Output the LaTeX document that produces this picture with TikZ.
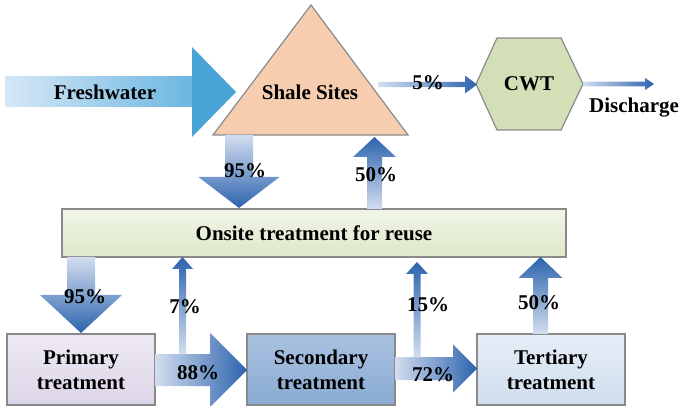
\documentclass[tikz,border=0pt]{standalone}
\usepackage{fontspec}
\setmainfont{Liberation Serif}
\usetikzlibrary{calc}
\definecolor{pale}{HTML}{D3DEF0}
\definecolor{deep}{HTML}{2C63AE}
\definecolor{boxgray}{HTML}{8A8A8A}
\definecolor{peach}{HTML}{F7CDAF}
\definecolor{cwtgreen}{HTML}{D3DFB6}
\definecolor{onsitetop}{HTML}{F1F5E8}
\definecolor{onsitebot}{HTML}{DDE7C8}
\definecolor{primtop}{HTML}{EDE9F3}
\definecolor{primbot}{HTML}{DCD5E7}
\definecolor{sectop}{HTML}{A9C1DF}
\definecolor{secbot}{HTML}{8AABD4}
\definecolor{tertop}{HTML}{E6EEF7}
\definecolor{terbot}{HTML}{CFDDEE}
\definecolor{freshL}{HTML}{D6E8F6}
\definecolor{freshR}{HTML}{6BB6E1}
\definecolor{freshH}{HTML}{4AA4D7}
% vertical block arrow: xc, ytail, yhead, ytip, shaft half, head half, shading
\newcommand{\blkV}[7]{%
  \shade[#7] (#1-#5,#2) -- (#1+#5,#2) -- (#1+#5,#3) -- (#1+#6,#3) -- (#1,#4)
    -- (#1-#6,#3) -- (#1-#5,#3) -- cycle;}
% horizontal block arrow: yc, xtail, xhead, xtip, shaft half, head half, shading
\newcommand{\blkH}[7]{%
  \shade[#7] (#2,#1-#5) -- (#2,#1+#5) -- (#3,#1+#5) -- (#3,#1+#6) -- (#4,#1)
    -- (#3,#1-#6) -- (#3,#1-#5) -- cycle;}
\tikzset{
  txt/.style={font=\fontsize{21}{25}\selectfont\bfseries, inner sep=0pt, align=center},
  pct/.style={font=\fontsize{21}{22}\selectfont\bfseries, inner sep=0pt},
  box/.style={draw=boxgray, line width=1.2pt, rectangle, inner sep=0pt,
    minimum width=148pt, minimum height=71pt, align=center,
    font=\fontsize{21}{25}\selectfont\bfseries},
  downsh/.style={top color=pale, bottom color=deep},
  upsh/.style={bottom color=pale, top color=deep},
  rightsh/.style={left color=pale, right color=deep},
}
\begin{document}
\begin{tikzpicture}[x=1pt,y=-1pt]
\useasboundingbox (0,0) rectangle (686,406);
% Freshwater arrow
\shade[left color=freshL, right color=freshR] (5,77) rectangle (193,107);
\fill[freshH] (192,77) -- (192,47) -- (236,92) -- (192,137) -- (192,107) -- cycle;
\node[txt] (fresh) at (105,92) {Freshwater};
% Shale sites triangle
\draw[boxgray, line width=1.2pt, fill=peach] (311,5) -- (408,135) -- (213,135) -- cycle;
\node[txt] (shale) at (310,92) {Shale Sites};
% CWT hexagon
\draw[boxgray, line width=1.2pt, fill=cwtgreen] (476,84) -- (497,38) -- (561,38) -- (583,84) -- (561,130) -- (497,130) -- cycle;
\node[txt] (cwt) at (529,84) {CWT};
% 5% arrow
\blkH{84.5}{378}{465}{477}{2.7}{9}{rightsh}
\node[pct] (p5) at (428,83) {5\%};
% Discharge arrow
\blkH{84}{583}{645}{654}{2.4}{6}{rightsh}
\node[txt] (dis) at (634,108) {Discharge};
% Onsite box
\node[box, minimum width=504pt, minimum height=48pt, top color=onsitetop, bottom color=onsitebot] (onsite) at (314,233) {Onsite treatment for reuse};
% 95% top arrow
\blkV{239}{135}{177}{208}{14}{40.5}{downsh}
\node[pct] (p95a) at (245,171) {95\%};
% 50% top arrow
\blkV{374.5}{209}{157}{137}{7.5}{21.5}{upsh}
\node[pct] (p50a) at (376,175) {50\%};
% bottom boxes
\node[box, top color=primtop, bottom color=primbot] (prim) at (81,369.5) {Primary\\treatment};
\node[box, top color=sectop, bottom color=secbot] (sec) at (321,369.5) {Secondary\\treatment};
\node[box, top color=tertop, bottom color=terbot] (ter) at (551,369.5) {Tertiary\\treatment};
% 95% bottom arrow
\blkV{81}{257}{295}{333}{14}{41}{downsh}
\node[pct] (p95b) at (85,297) {95\%};
% 88% arrow
\blkH{370}{155}{210}{247}{16}{37}{rightsh}
\node[pct] (p88) at (198,373) {88\%};
% 7% arrow
\blkV{182.5}{354}{269}{257}{3.5}{10.5}{upsh}
\node[pct] (p7) at (185,307) {7\%};
% 72% arrow
\blkH{368.5}{395}{453}{477}{11.5}{24}{rightsh}
\node[pct] (p72) at (433,375) {72\%};
% 15% arrow
\blkV{417}{357}{274}{262}{3.5}{11}{upsh}
\node[pct] (p15) at (428,305) {15\%};
% 50% right arrow
\blkV{540.5}{334}{278}{257}{7.5}{22}{upsh}
\node[pct] (p50b) at (539,303) {50\%};
\end{tikzpicture}
\end{document}
